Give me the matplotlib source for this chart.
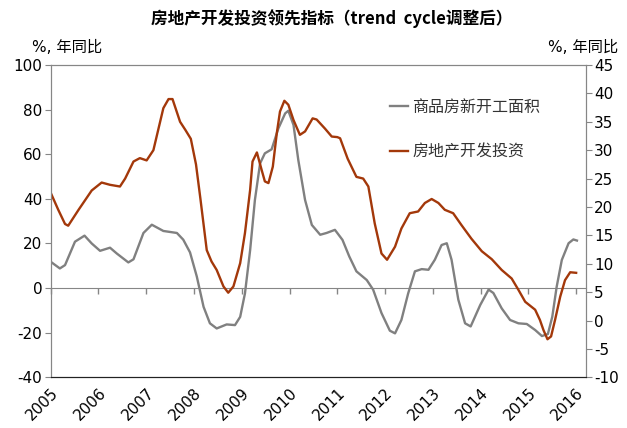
import matplotlib
matplotlib.use("Agg")
import matplotlib.pyplot as plt
import numpy as np

plt.rcParams["axes.unicode_minus"] = False

# months since Jan 2005 -> value
starts_month = [0, 2.3, 3.6, 6.1, 8.5, 10.3, 12.4, 14.9, 16.6, 19.5, 20.8, 23.3, 25.4,
                28.3, 31.7, 33.3, 35.0, 36.7, 38.4, 40.0, 41.7, 44.2, 46.3, 47.6, 48.8,
                50.1, 51.3, 52.6, 53.8, 55.5, 57.2, 58.9, 59.7, 61.0, 62.2, 63.9, 65.6,
                67.7, 69.3, 71.4, 73.3, 75.0, 76.8, 79.4, 81.0, 83.1, 85.2, 86.5, 88.1,
                89.8, 91.5, 93.2, 94.9, 96.5, 98.2, 99.5, 100.7, 102.4, 104.1, 105.5,
                107.9, 110.0, 111.2, 113.3, 115.4, 117.5, 119.6, 121.7, 123.4, 124.9,
                126.0, 127.1, 128.4, 130.1, 131.3, 132.2]
starts_val = [11.8, 8.8, 10.3, 20.8, 23.5, 20.0, 16.7, 18.1, 15.5, 11.5, 12.9, 24.7, 28.4,
              25.6, 24.7, 21.7, 16.0, 5.2, -8.4, -15.8, -18.1, -16.3, -16.6, -12.9, -2.4,
              17.0, 39.5, 55.9, 60.4, 62.2, 71.6, 78.3, 79.5, 73.1, 57.4, 39.5, 28.3,
              23.9, 24.7, 26.1, 21.6, 14.2, 7.5, 3.6, -0.7, -11.2, -19.1, -20.3, -14.3,
              -2.4, 7.5, 8.5, 8.2, 12.7, 19.3, 20.1, 12.7, -5.2, -15.8, -17.2,
              -7.6, -0.7, -2.2, -9.1, -14.3, -15.8, -16.1, -18.8, -21.5, -20.6,
              -12.9, 0.5, 12.6, 20.1, 21.8, 21.3]

invest_month = [0, 1.9, 3.6, 4.4, 7.0, 10.3, 12.8, 14.9, 17.4, 18.7, 20.8, 22.4, 24.1,
                25.8, 28.3, 29.6, 30.6, 32.5, 33.8, 35.2, 36.5, 37.6, 39.2, 40.4, 41.7,
                43.4, 44.6, 45.9, 47.6, 48.8, 50.1, 50.7, 51.8, 53.0, 53.8, 54.7, 55.8,
                56.8, 57.6, 58.7, 59.7, 61.0, 62.6, 63.9, 65.8, 66.8, 68.9, 70.6, 72.0,
                72.7, 74.6, 76.8, 78.5, 79.8, 81.4, 83.1, 84.5, 86.5, 88.1, 90.2, 92.3,
                94.0, 95.7, 97.4, 99.0, 101.1, 103.2, 105.7, 108.3, 110.8, 113.3, 115.8,
                117.5, 119.2, 121.7, 122.9, 123.8, 124.8, 125.7, 126.7, 128.0, 129.2,
                130.5, 132.0]
invest_val = [22.5, 19.5, 17.0, 16.7, 19.5, 22.9, 24.3, 23.9, 23.6, 25.0, 28.0, 28.6, 28.2,
              30.0, 37.4, 39.0, 39.0, 35.0, 33.6, 32.0, 27.5, 21.5, 12.4, 10.4, 8.9,
              6.0, 4.9, 6.0, 10.1, 15.4, 23.0, 28.0, 29.6, 26.5, 24.5, 24.2, 27.1,
              33.0, 36.8, 38.7, 38.0, 35.3, 32.7, 33.3, 35.6, 35.4, 33.8, 32.4, 32.3,
              32.1, 28.5, 25.3, 25.0, 23.6, 17.1, 11.8, 10.7, 13.0, 16.2, 18.9, 19.2,
              20.7, 21.4, 20.7, 19.5, 18.9, 16.8, 14.4, 12.2, 10.8, 8.9, 7.4,
              5.4, 3.3, 1.9, 0.1, -1.7, -3.3, -2.8, 0.1, 4.2, 7.1,
              8.5, 8.4]

years = [str(y) for y in range(2005, 2017)]
year_ticks = 12 * np.arange(len(years))

grey = "#808080"
red = "#A3380A"
axis_col = "#868686"
cjk = ["DejaVu Sans", "Noto Sans CJK SC"]

fig = plt.figure(figsize=(6.27, 4.28), dpi=100)
ax = fig.add_axes([50.7 / 627, 1 - 377.3 / 428, 535 / 627, 312.3 / 428])
ax2 = ax.twinx()

ax.plot(starts_month, starts_val, color=grey, lw=1.7, label="商品房新开工面积")
ax2.plot(invest_month, invest_val, color=red, lw=1.7, label="房地产开发投资")

ax.set_xlim(0, 134.4)
ax.set_ylim(-40, 100)
ax.set_yticks(np.arange(-40, 101, 20))
ax2.set_ylim(-10, 45)
ax2.set_yticks(np.arange(-10, 46, 5))

# year labels sit at the bottom, tick marks on the zero line
ax.set_xticks(year_ticks)
ax.set_xticklabels(years, rotation=45, ha="right", va="top", rotation_mode="anchor")
ax.tick_params(axis="x", length=0, pad=6, labelsize=11)
zero_axis = ax.secondary_xaxis(40 / 140)
zero_axis.set_xticks(year_ticks, labels=[])
zero_axis.tick_params(axis="x", length=4, color=axis_col, width=1)
zero_axis.spines["bottom"].set_color(axis_col)

ax.tick_params(axis="y", length=4, color=axis_col, labelsize=11, pad=2)
ax2.tick_params(axis="y", length=4, color=axis_col, labelsize=11, pad=2)
for a in (ax, ax2):
    for side in ("left", "right", "top"):
        a.spines[side].set_color(axis_col)
    a.spines["bottom"].set_color("#222222")

fig.text(332 / 627, 1 - 19 / 428, "房地产开发投资领先指标（trend  cycle调整后）",
         ha="center", va="center", fontsize=12, fontweight="bold",
         family=["Noto Sans CJK SC"])
fig.text(32 / 627, 1 - 47 / 428, "%, 年同比", ha="left", va="center",
         fontsize=11, family=cjk)
fig.text(618 / 627, 1 - 47 / 428, "%, 年同比", ha="right", va="center",
         fontsize=11, family=cjk)

h1, l1 = ax.get_legend_handles_labels()
h2, l2 = ax2.get_legend_handles_labels()
leg = ax2.legend(h1 + h2, l1 + l2, loc="upper left",
                 bbox_to_anchor=(382 / 627, 1 - 91 / 428), bbox_transform=fig.transFigure,
                 frameon=False, borderpad=0, handlelength=1.1, handletextpad=0.3,
                 labelspacing=1.7, prop={"family": ["Noto Sans CJK SC"], "size": 11.5})
for t in leg.get_texts():
    t.set_color("#333333")

fig.savefig("out.png", dpi=100)
